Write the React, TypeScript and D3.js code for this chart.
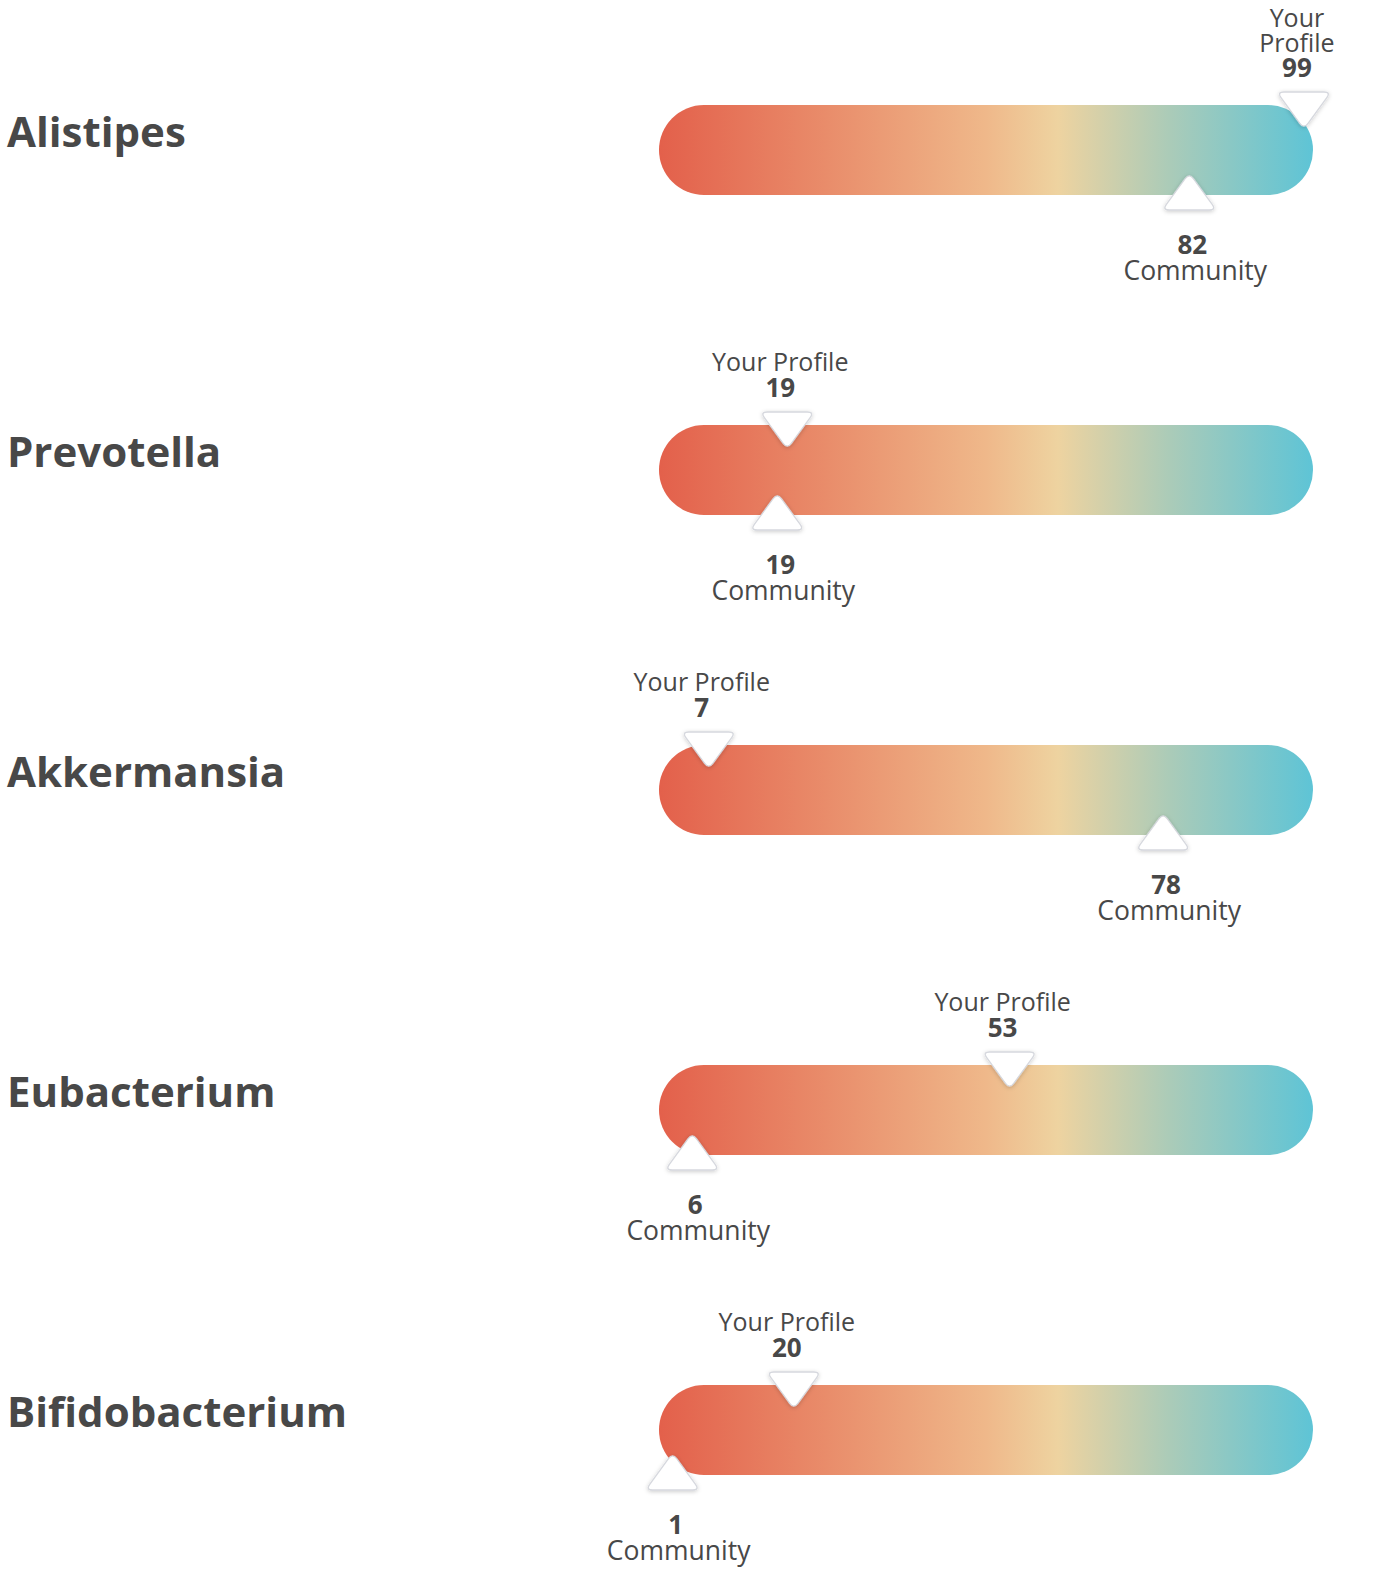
import React, { useEffect } from 'react';
import * as d3 from 'd3';

// Chart data
const categories = ['Alistipes', 'Prevotella', 'Akkermansia', 'Eubacterium', 'Bifidobacterium'];
const profileValues = [99, 19, 7, 53, 20];
const communityValues = [82, 19, 78, 6, 1];

const gradientStops = [
  { offset: 0, color: '#e3604b' },
  { offset: 0.3, color: '#ea9470' },
  { offset: 0.5, color: '#efb88a' },
  { offset: 0.61, color: '#eed3a0' },
  { offset: 0.78, color: '#abcbb8' },
  { offset: 1, color: '#5ec4d6' },
];

const WIDTH = 1379;
const HEIGHT = 1594;
const BAR_H = 90;
const TEXT = '#484848';
const FONT = "'Open Sans', 'Noto Sans', sans-serif";

// rounded triangle: pts in order, r = corner radius
function roundedTriangle(pts: [number, number][], r: number) {
  const path = d3.path();
  const n = pts.length;
  for (let i = 0; i < n; i++) {
    const prev = pts[(i + n - 1) % n];
    const cur = pts[i];
    const next = pts[(i + 1) % n];
    const d1 = Math.hypot(prev[0] - cur[0], prev[1] - cur[1]);
    const d2 = Math.hypot(next[0] - cur[0], next[1] - cur[1]);
    const a = [cur[0] + ((prev[0] - cur[0]) * r) / d1, cur[1] + ((prev[1] - cur[1]) * r) / d1];
    const b = [cur[0] + ((next[0] - cur[0]) * r) / d2, cur[1] + ((next[1] - cur[1]) * r) / d2];
    if (i === 0) path.moveTo(a[0], a[1]);
    else path.lineTo(a[0], a[1]);
    path.quadraticCurveTo(cur[0], cur[1], b[0], b[1]);
  }
  path.closePath();
  return path.toString();
}

const App: React.FC = () => {
  useEffect(() => {
    document.body.style.margin = '0';
  }, []);

  const x = d3.scaleLinear().domain([0, 100]).range([659, 1313]);
  const y = d3.scalePoint<string>().domain(categories).range([105, 1385]);
  const clampV = (v: number) => Math.max(3, Math.min(98, v));

  const triW = 54;
  const triH = 37;

  return (
    <svg width={WIDTH} height={HEIGHT} style={{ display: 'block', background: '#fff' }}>
      <defs>
        <linearGradient id="barGrad" gradientUnits="userSpaceOnUse" x1={x(0)} x2={x(100)} y1={0} y2={0}>
          {gradientStops.map((s) => (
            <stop key={s.offset} offset={s.offset} stopColor={s.color} />
          ))}
        </linearGradient>
        <filter id="shadow" x="-30%" y="-30%" width="160%" height="160%">
          <feDropShadow dx="0" dy="1" stdDeviation="2" floodColor="#000" floodOpacity="0.2" />
        </filter>
      </defs>
      {categories.map((cat, i) => {
        const top = y(cat)!;
        const bottom = top + BAR_H;
        const pv = profileValues[i];
        const cv = communityValues[i];
        const pLabelX = x(clampV(pv)) - 3;
        const pTriX = pLabelX + 7;
        const cLabelX = x(clampV(cv));
        const cTriX = cLabelX - 6;
        const wrap = pLabelX + 69 > WIDTH - 30;

        const topTri = roundedTriangle(
          [
            [pTriX - triW / 2, top - 13],
            [pTriX + triW / 2, top - 13],
            [pTriX, top - 13 + triH],
          ],
          7
        );
        const botTri = roundedTriangle(
          [
            [cTriX - triW / 2, bottom + 15],
            [cTriX, bottom + 15 - triH],
            [cTriX + triW / 2, bottom + 15],
          ],
          7
        );

        return (
          <g key={cat}>
            <text x={7} y={top + 42} fontFamily={FONT} fontWeight={700} fontSize={42} fill={TEXT}>
              {cat}
            </text>
            <rect x={x(0)} y={top} width={x(100) - x(0)} height={BAR_H} rx={BAR_H / 2} fill="url(#barGrad)" />

            {/* Your Profile marker */}
            <path d={topTri} fill="#fff" stroke="#d6d8de" strokeWidth={1.3} filter="url(#shadow)" />
            <text fontFamily={FONT} fill={TEXT} textAnchor="middle" fontSize={25}>
              {wrap ? (
                <>
                  <tspan x={pLabelX} y={top - 78}>Your</tspan>
                  <tspan x={pLabelX} y={top - 53}>Profile</tspan>
                </>
              ) : (
                <tspan x={pLabelX} y={top - 54}>Your Profile</tspan>
              )}
              <tspan x={pLabelX} y={top - 28} fontSize={26} fontWeight={700}>{pv}</tspan>
            </text>

            {/* Community marker */}
            <path d={botTri} fill="#fff" stroke="#d6d8de" strokeWidth={1.3} filter="url(#shadow)" />
            <text fontFamily={FONT} fill={TEXT} textAnchor="middle">
              <tspan x={cLabelX - 3} y={bottom + 59} fontSize={26} fontWeight={700}>{cv}</tspan>
              <tspan x={cLabelX} y={bottom + 85} fontSize={26.5}>Community</tspan>
            </text>
          </g>
        );
      })}
    </svg>
  );
};

export default App;
